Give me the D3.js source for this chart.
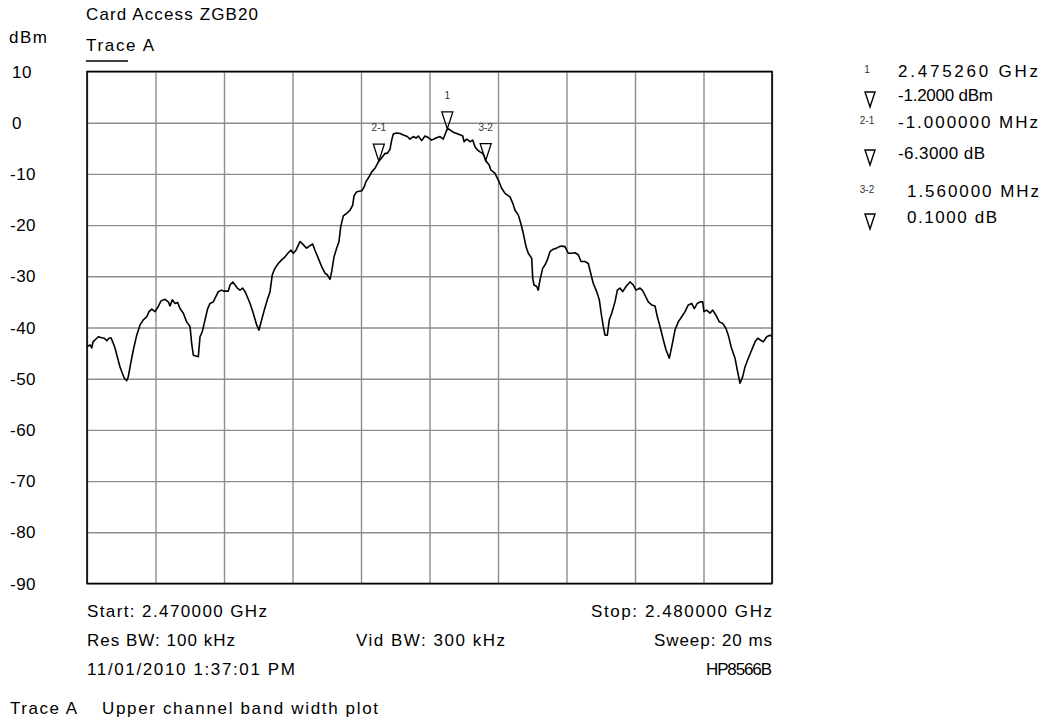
<!DOCTYPE html>
<html><head><meta charset="utf-8">
<script src="https://cdn.jsdelivr.net/npm/d3@7"></script>
<style>
body{margin:0;background:#fff}
svg{display:block}
text{font-family:"Liberation Sans",Arial,sans-serif;fill:#000}
</style>
</head><body>
<svg id="c" width="1039" height="722"></svg>
<script>
// ---- data ----
const freqMHz = [2470.000,2470.044,2470.069,2470.088,2470.142,2470.165,2470.215,2470.253,2470.288,2470.321,2470.350,2470.375,2470.409,2470.442,2470.482,2470.515,2470.545,2470.580,2470.603,2470.638,2470.676,2470.726,2470.774,2470.822,2470.872,2470.905,2470.945,2470.993,2471.041,2471.080,2471.139,2471.187,2471.212,2471.245,2471.285,2471.324,2471.358,2471.406,2471.455,2471.504,2471.528,2471.552,2471.601,2471.625,2471.650,2471.683,2471.723,2471.762,2471.796,2471.844,2471.879,2471.917,2471.966,2472.000,2472.063,2472.088,2472.127,2472.161,2472.194,2472.234,2472.273,2472.307,2472.340,2472.380,2472.413,2472.442,2472.477,2472.511,2472.550,2472.588,2472.632,2472.672,2472.705,2472.745,2472.793,2472.842,2472.891,2472.939,2472.978,2473.012,2473.051,2473.085,2473.109,2473.149,2473.182,2473.207,2473.245,2473.295,2473.328,2473.377,2473.426,2473.474,2473.508,2473.547,2473.572,2473.606,2473.645,2473.679,2473.704,2473.742,2473.791,2473.839,2473.879,2473.898,2473.937,2474.010,2474.044,2474.073,2474.121,2474.156,2474.204,2474.244,2474.260,2474.277,2474.317,2474.350,2474.384,2474.423,2474.448,2474.472,2474.521,2474.569,2474.618,2474.676,2474.715,2474.763,2474.803,2474.836,2474.886,2474.934,2474.982,2475.032,2475.095,2475.153,2475.201,2475.241,2475.260,2475.289,2475.339,2475.397,2475.455,2475.485,2475.504,2475.543,2475.591,2475.631,2475.664,2475.698,2475.737,2475.777,2475.800,2475.820,2475.873,2475.893,2475.931,2475.956,2476.004,2476.054,2476.102,2476.175,2476.215,2476.248,2476.296,2476.331,2476.369,2476.409,2476.442,2476.492,2476.507,2476.526,2476.565,2476.588,2476.613,2476.653,2476.686,2476.720,2476.759,2476.807,2476.857,2476.895,2476.930,2476.978,2477.026,2477.076,2477.124,2477.172,2477.212,2477.270,2477.318,2477.353,2477.391,2477.441,2477.479,2477.514,2477.537,2477.562,2477.596,2477.625,2477.660,2477.708,2477.742,2477.781,2477.820,2477.869,2477.927,2477.975,2478.015,2478.073,2478.112,2478.146,2478.194,2478.244,2478.292,2478.326,2478.365,2478.413,2478.453,2478.501,2478.536,2478.584,2478.632,2478.682,2478.730,2478.778,2478.828,2478.866,2478.909,2478.949,2478.988,2479.007,2479.047,2479.095,2479.134,2479.182,2479.231,2479.280,2479.328,2479.362,2479.404,2479.460,2479.493,2479.533,2479.572,2479.606,2479.654,2479.704,2479.752,2479.791,2479.825,2479.873,2479.923,2479.971,2480.000];
const levelDbm = [-43.8,-43.4,-44.0,-42.8,-42.1,-41.8,-42.0,-42.1,-42.6,-42.1,-42.0,-42.8,-44.0,-45.7,-47.7,-48.9,-49.9,-50.4,-49.6,-47.0,-44.4,-41.5,-39.5,-38.5,-37.9,-36.9,-36.4,-36.9,-35.9,-34.8,-34.5,-35.0,-35.8,-34.6,-35.3,-35.1,-36.3,-37.2,-38.9,-39.8,-43.1,-45.4,-45.6,-45.7,-41.8,-40.8,-38.5,-36.3,-35.3,-35.0,-34.0,-33.0,-32.7,-32.9,-32.9,-31.7,-31.1,-31.7,-32.3,-32.7,-32.3,-33.0,-34.0,-35.3,-36.6,-37.9,-39.5,-40.5,-38.5,-36.6,-34.6,-33.0,-29.7,-28.4,-27.5,-26.8,-26.2,-25.4,-24.9,-25.5,-24.9,-23.9,-23.2,-23.7,-24.2,-24.5,-24.1,-23.7,-24.9,-26.5,-28.1,-29.4,-29.7,-30.6,-29.1,-26.2,-24.5,-23.2,-20.3,-18.2,-17.7,-17.1,-16.1,-14.3,-13.5,-13.3,-12.6,-11.5,-10.5,-9.6,-8.9,-7.9,-7.5,-7.3,-6.6,-6.0,-6.0,-5.2,-3.4,-2.2,-2.0,-2.1,-2.4,-2.7,-3.2,-2.7,-3.0,-2.6,-3.5,-2.6,-2.9,-3.4,-3.0,-2.7,-3.2,-1.8,-1.2,-1.3,-1.8,-2.1,-2.4,-2.6,-3.7,-3.2,-3.7,-3.4,-4.7,-5.3,-5.7,-6.0,-6.6,-7.4,-8.3,-9.2,-9.6,-9.9,-11.2,-12.8,-13.8,-14.5,-15.7,-17.1,-18.0,-19.6,-21.6,-24.2,-25.5,-26.5,-30.4,-31.7,-32.0,-32.7,-30.7,-28.4,-27.8,-26.8,-25.2,-24.7,-24.5,-24.2,-24.1,-24.2,-25.5,-25.5,-25.4,-25.8,-27.1,-27.1,-27.5,-29.4,-31.4,-33.0,-34.6,-37.9,-39.8,-41.5,-41.5,-38.5,-37.2,-35.0,-32.7,-32.3,-33.0,-32.0,-31.1,-31.7,-32.7,-32.3,-32.8,-33.7,-35.0,-35.6,-35.8,-37.9,-39.8,-42.4,-44.4,-46.0,-43.8,-40.5,-38.9,-37.9,-36.9,-35.6,-35.3,-36.3,-35.3,-35.0,-35.0,-36.9,-36.6,-37.2,-36.6,-37.6,-38.9,-39.2,-40.2,-41.5,-43.8,-46.0,-48.3,-50.9,-49.6,-47.7,-46.0,-44.4,-42.8,-42.1,-42.4,-42.8,-41.8,-41.5,-41.7];
const yTicks = [10, 0, -10, -20, -30, -40, -50, -60, -70, -80, -90];
const xGridMHz = [2470, 2471, 2472, 2473, 2474, 2475, 2476, 2477, 2478, 2479, 2480];
const markerNames = ["1", "2-1", "3-2"];
const markerFreqMHz = [2475.26, 2474.26, 2475.82];
const markerLevel = [-1.2, -7.5, -7.4];
const legendFirst = ["2.475260 GHz", "-1.000000 MHz", "1.560000 MHz"];
const legendSecond = ["-1.2000 dBm", "-6.3000 dB", "0.1000 dB"];

// ---- layout ----
const svg = d3.select("#c");
const L = 87, R = 772, T = 71.5, B = 583.5;
const x = d3.scaleLinear().domain([2470, 2480]).range([L, R]);
const y = d3.scaleLinear().domain([-90, 10]).range([B, T]);
const FS = 17;

function txt(s, px, py, opts = {}) {
  const t = svg.append("text").attr("x", px).attr("y", py).text(s)
    .attr("font-size", opts.fs || FS);
  if (opts.anchor) t.attr("text-anchor", opts.anchor);
  if (opts.len) t.attr("textLength", opts.len).attr("lengthAdjust", "spacing");
  if (opts.fill) t.style("fill", opts.fill);
  if (opts.ls) t.attr("letter-spacing", opts.ls);
  return t;
}

// grid via axes
const gx = svg.append("g").attr("transform", `translate(0,${B})`)
  .call(d3.axisBottom(x).tickValues(xGridMHz).tickSize(-(B - T)).tickFormat(""));
const gy = svg.append("g").attr("transform", `translate(${L},0)`)
  .call(d3.axisLeft(y).tickValues(yTicks).tickSize(-(R - L)).tickFormat(""));
[gx, gy].forEach(g => {
  g.select(".domain").remove();
  g.selectAll(".tick line").attr("stroke", "#8c8c8c").attr("stroke-width", 1.4);
});

// border
svg.append("rect").attr("x", L).attr("y", T).attr("width", R - L).attr("height", B - T)
  .attr("fill", "none").attr("stroke", "#000").attr("stroke-width", 1.6);

// trace
const pts = freqMHz.map((f, i) => [f, levelDbm[i]]);
svg.append("path").datum(pts)
  .attr("d", d3.line().x(d => x(d[0])).y(d => y(d[1])))
  .attr("fill", "none").attr("stroke", "#000").attr("stroke-width", 1.6)
  .attr("stroke-linejoin", "round");

// markers on trace
markerNames.forEach((n, i) => {
  const mx = x(markerFreqMHz[i]), my = y(markerLevel[i]);
  svg.append("path")
    .attr("d", `M${mx - 5.5},${my - 17}L${mx + 5.5},${my - 17}L${mx},${my}Z`)
    .attr("fill", "none").attr("stroke", "#000").attr("stroke-width", 1.3);
  txt(n, mx, my - 30, { fs: 10, anchor: "middle", fill: "#333" });
});

// y tick labels
yTicks.forEach(v => {
  txt(String(v), v < 0 ? 10 : 12, y(v) + 6, { ls: "0.5px" });
});

// header texts
txt("Card Access ZGB20", 86, 19.5, { len: 172 });
txt("dBm", 9, 43, { len: 38 });
txt("Trace A", 86, 51, { len: 68 });
svg.append("line").attr("x1", 86).attr("x2", 128).attr("y1", 61).attr("y2", 61)
  .attr("stroke", "#000").attr("stroke-width", 1.5);

// footer texts
txt("Start: 2.470000 GHz", 87, 616.5, { len: 180 });
txt("Stop: 2.480000 GHz", 591, 616.5, { len: 181 });
txt("Res BW: 100 kHz", 87, 646, { len: 148 });
txt("Vid BW: 300 kHz", 356, 646, { len: 149 });
txt("Sweep: 20 ms", 654, 646, { len: 118 });
txt("11/01/2010 1:37:01 PM", 87, 675, { len: 208 });
txt("HP8566B", 706, 675, { len: 66 });
txt("Trace A", 10, 714, { len: 67 });
txt("Upper channel band width plot", 102, 714, { len: 276 });

// marker legend (right)
const legTopY = [77, 128, 197];
const legBotY = [101, 159, 223];
const legXTop = [898, 898, 907];
const legXBot = [898, 898, 907];
const legLenTop = [140, 140, 132];
const legLenBot = [95, 87, 90];
markerNames.forEach((n, i) => {
  txt(n, 867, legTopY[i] - 4, { fs: 10, anchor: "middle", fill: "#333" });
  txt(legendFirst[i], legXTop[i], legTopY[i], { len: legLenTop[i], fs: 17 });
  txt(legendSecond[i], legXBot[i], legBotY[i], { len: legLenBot[i], fs: 17 });
  const ty = legBotY[i];
  svg.append("path")
    .attr("d", `M865,${ty - 9}L875,${ty - 9}L870,${ty + 6}Z`)
    .attr("fill", "none").attr("stroke", "#000").attr("stroke-width", 1.4);
});
</script>
</body></html>
